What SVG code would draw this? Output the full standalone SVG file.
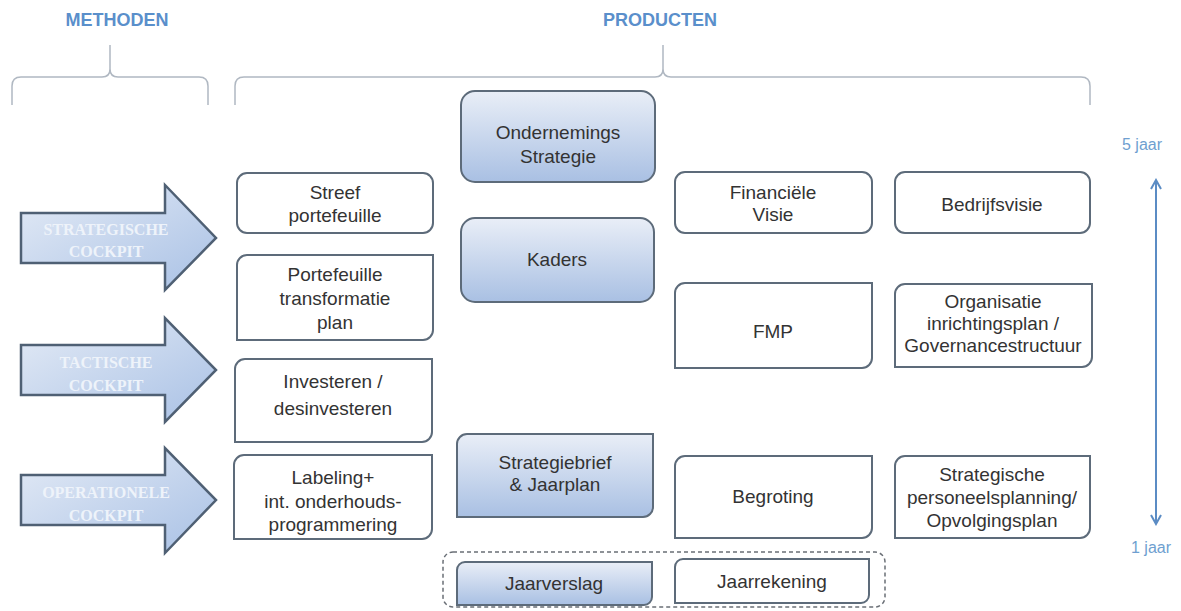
<svg xmlns="http://www.w3.org/2000/svg" width="1181" height="611" viewBox="0 0 1181 611">
<defs>
<linearGradient id="blueFill" x1="0" y1="0" x2="0" y2="1">
<stop offset="0" stop-color="#e9eef7"/>
<stop offset="1" stop-color="#a9c0e3"/>
</linearGradient>
<linearGradient id="arrowFill" x1="0" y1="0" x2="1" y2="1">
<stop offset="0" stop-color="#e4ebf6"/>
<stop offset="1" stop-color="#a9c1e5"/>
</linearGradient>
<marker id="chev" viewBox="0 0 12 12" refX="10" refY="6" markerWidth="12" markerHeight="12" markerUnits="userSpaceOnUse" orient="auto-start-reverse">
<path d="M1,1 L10,6 L1,11" fill="none" stroke="#5b8cc4" stroke-width="2"/>
</marker>
<style>
.box{fill:#ffffff;stroke:#5d6b7a;stroke-width:2}
.bbox{fill:url(#blueFill);stroke:#5d6b7a;stroke-width:2}
.arrow{fill:url(#arrowFill);stroke:#4f6074;stroke-width:2.5;stroke-linejoin:miter}
.t{font-family:"Liberation Sans",Arial,sans-serif;font-size:19px;fill:#333333;text-anchor:middle}
.at{font-family:"Liberation Serif","Times New Roman",serif;font-size:16px;font-weight:bold;fill:#eef3fa;text-anchor:middle}
.hd{font-family:"Liberation Sans",Arial,sans-serif;font-size:18px;font-weight:bold;fill:#5a8fcb;text-anchor:middle}
.yr{font-family:"Liberation Sans",Arial,sans-serif;font-size:16px;fill:#6f9fd0;text-anchor:middle}
.brace{fill:none;stroke:#b0b8c2;stroke-width:1.5}
</style>
</defs>
<rect width="1181" height="611" fill="#ffffff"/>

<g id="headers">
<text class="hd" x="117" y="26">METHODEN</text>
<text class="hd" x="660" y="26">PRODUCTEN</text>
<path class="brace" d="M12,105 V86 Q12,77 21,77 H102 Q110,77 110,69 V45 M110,69 Q110,77 118,77 H199 Q208,77 208,86 V105"/>
<path class="brace" d="M235,105 V86 Q235,77 244,77 H655 Q663,77 663,69 V45 M663,69 Q663,77 671,77 H1081 Q1090,77 1090,86 V105"/>
</g>

<g id="arrow-strategisch">
<path class="arrow" d="M21,213 H165 V185 L216,238 L165,290 V263 H21 Z"/>
<text class="at" x="106" y="235">STRATEGISCHE</text>
<text class="at" x="106" y="257">COCKPIT</text>
</g>
<g id="arrow-tactisch">
<path class="arrow" d="M21,345 H165 V318 L216,370 L165,422 V395 H21 Z"/>
<text class="at" x="106" y="368">TACTISCHE</text>
<text class="at" x="106" y="391">COCKPIT</text>
</g>
<g id="arrow-operationeel">
<path class="arrow" d="M21,475 H165 V448 L216,500 L165,553 V525 H21 Z"/>
<text class="at" x="106" y="498">OPERATIONELE</text>
<text class="at" x="106" y="521">COCKPIT</text>
</g>

<g id="streef">
<rect class="box" x="237" y="173" width="196" height="60" rx="10"/>
<text class="t" x="335" y="199">Streef</text>
<text class="t" x="335" y="222">portefeuille</text>
</g>
<g id="transformatie">
<path class="box" d="M247,255 H433 V330 A10,10 0 0 1 423,340 H237 V265 A10,10 0 0 1 247,255 Z"/>
<text class="t" x="335" y="281">Portefeuille</text>
<text class="t" x="335" y="305">transformatie</text>
<text class="t" x="335" y="329">plan</text>
</g>
<g id="investeren">
<path class="box" d="M245,359 H432 V432 A10,10 0 0 1 422,442 H235 V369 A10,10 0 0 1 245,359 Z"/>
<text class="t" x="333" y="388">Investeren /</text>
<text class="t" x="333" y="415">desinvesteren</text>
</g>
<g id="labeling">
<path class="box" d="M244,455 H432 V529 A10,10 0 0 1 422,539 H234 V465 A10,10 0 0 1 244,455 Z"/>
<text class="t" x="333" y="484">Labeling+</text>
<text class="t" x="333" y="508">int. onderhouds-</text>
<text class="t" x="333" y="531">programmering</text>
</g>

<g id="ondernemingsstrategie">
<rect class="bbox" x="461" y="91" width="194" height="91" rx="14"/>
<text class="t" x="558" y="139">Ondernemings</text>
<text class="t" x="558" y="163">Strategie</text>
</g>
<g id="kaders">
<rect class="bbox" x="461" y="218" width="193" height="84" rx="14"/>
<text class="t" x="557" y="266">Kaders</text>
</g>
<g id="strategiebrief">
<path class="bbox" d="M467,434 H653 V507 A10,10 0 0 1 643,517 H457 V444 A10,10 0 0 1 467,434 Z"/>
<text class="t" x="555" y="469">Strategiebrief</text>
<text class="t" x="555" y="491">&amp; Jaarplan</text>
</g>

<g id="financiele-visie">
<rect class="box" x="675" y="172" width="197" height="61" rx="10"/>
<text class="t" x="773" y="199">Financiële</text>
<text class="t" x="773" y="221">Visie</text>
</g>
<g id="bedrijfsvisie">
<rect class="box" x="895" y="172" width="195" height="61" rx="10"/>
<text class="t" x="992" y="211">Bedrijfsvisie</text>
</g>
<g id="fmp">
<path class="box" d="M685,283 H872 V358 A10,10 0 0 1 862,368 H675 V293 A10,10 0 0 1 685,283 Z"/>
<text class="t" x="773" y="338">FMP</text>
</g>
<g id="organisatie">
<path class="box" d="M905,284 H1092 V357 A10,10 0 0 1 1082,367 H895 V294 A10,10 0 0 1 905,284 Z"/>
<text class="t" x="993" y="308">Organisatie</text>
<text class="t" x="993" y="330">inrichtingsplan /</text>
<text class="t" x="993" y="352">Governancestructuur</text>
</g>
<g id="begroting">
<path class="box" d="M685,456 H872 V528 A10,10 0 0 1 862,538 H675 V466 A10,10 0 0 1 685,456 Z"/>
<text class="t" x="773" y="503">Begroting</text>
</g>
<g id="personeelsplanning">
<path class="box" d="M905,456 H1090 V528 A10,10 0 0 1 1080,538 H895 V466 A10,10 0 0 1 905,456 Z"/>
<text class="t" x="992" y="481">Strategische</text>
<text class="t" x="992" y="504">personeelsplanning/</text>
<text class="t" x="992" y="527">Opvolgingsplan</text>
</g>

<g id="jaarstukken">
<rect x="443" y="552" width="442" height="55" rx="10" fill="none" stroke="#6a6f76" stroke-width="1.5" stroke-dasharray="4,3"/>
</g>
<g id="jaarverslag">
<path class="bbox" d="M465,562 H652 V597 A8,8 0 0 1 644,605 H457 V570 A8,8 0 0 1 465,562 Z"/>
<text class="t" x="554" y="590">Jaarverslag</text>
</g>
<g id="jaarrekening">
<path class="box" d="M683,559 H869 V595 A8,8 0 0 1 861,603 H675 V567 A8,8 0 0 1 683,559 Z"/>
<text class="t" x="772" y="588">Jaarrekening</text>
</g>

<g id="timeline">
<text class="yr" x="1142" y="150">5 jaar</text>
<text class="yr" x="1151" y="553">1 jaar</text>
</g>
<g id="connectors">
<line x1="1156" y1="180" x2="1156" y2="524" stroke="#5b8cc4" stroke-width="2" marker-start="url(#chev)" marker-end="url(#chev)"/>
</g>
</svg>
